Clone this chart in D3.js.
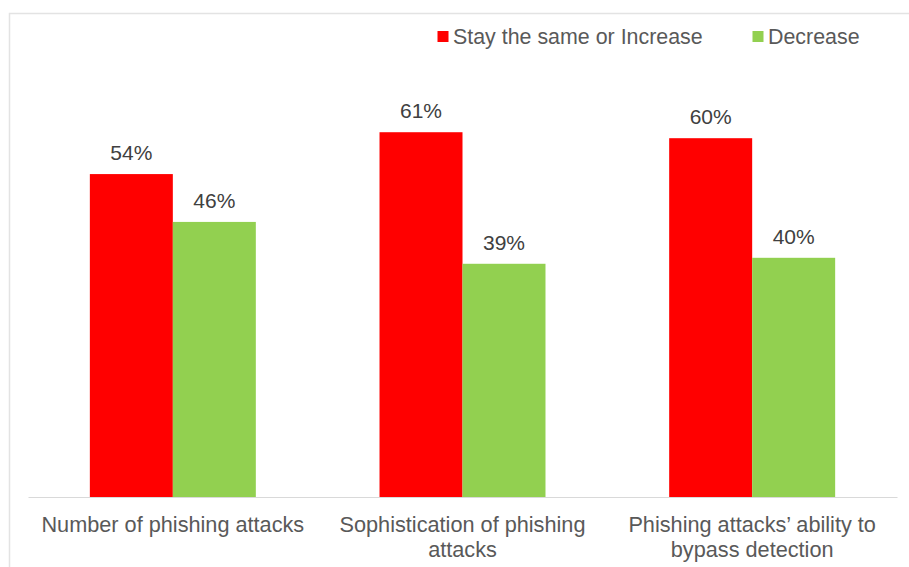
<!DOCTYPE html>
<html>
<head>
<meta charset="utf-8">
<script src="https://cdn.jsdelivr.net/npm/d3@7"></script>
<style>
  html, body { margin: 0; padding: 0; background: #ffffff; }
  svg { display: block; font-family: "Liberation Sans", Arial, sans-serif; }
</style>
</head>
<body>
<svg id="chart" width="909" height="567"></svg>
<script>
const categories = [
  "Number of phishing attacks",
  "Sophistication of phishing attacks",
  "Phishing attacks\u2019 ability to bypass detection"
];
const seriesNames = ["Stay the same or Increase", "Decrease"];
const stayOrIncrease = [54, 61, 60];
const decrease = [46, 39, 40];
const seriesColors = ["#FF0000", "#92D050"];

const svg = d3.select("#chart");
const W = 909, H = 567;

// light frame
svg.append("path")
  .attr("d", `M9.5,${H} V13.5 H${W}`)
  .attr("fill", "none")
  .attr("stroke", "#e3e3e3")
  .attr("stroke-width", 1.5);

const x0 = d3.scaleBand().domain(categories).range([28, 897]).paddingInner(0.427).paddingOuter(0.2135);
const x1 = d3.scaleBand().domain(seriesNames).range([0, x0.bandwidth()]).padding(0);
const y = d3.scaleLinear().domain([0, 100]).range([497, -101]);

const data = categories.map((c, i) => ({ cat: c, vals: [stayOrIncrease[i], decrease[i]] }));

const groups = svg.append("g").selectAll("g").data(data).join("g")
  .attr("transform", d => `translate(${x0(d.cat)},0)`);

groups.selectAll("rect").data(d => d.vals.map((v, j) => ({ v, s: seriesNames[j], j })))
  .join("rect")
  .attr("x", d => x1(d.s))
  .attr("y", d => y(d.v))
  .attr("width", x1.bandwidth())
  .attr("height", d => y(0) - y(d.v))
  .attr("fill", d => seriesColors[d.j]);

groups.selectAll("text.val").data(d => d.vals.map((v, j) => ({ v, s: seriesNames[j], j })))
  .join("text")
  .attr("class", "val")
  .attr("x", d => x1(d.s) + x1.bandwidth() / 2)
  .attr("y", d => y(d.v) - 14)
  .attr("text-anchor", "middle")
  .attr("font-size", 21)
  .attr("fill", "#404040")
  .text(d => d.v + "%");

// axis line
const xAxis = d3.axisBottom(x0).tickSize(0).tickFormat("");
const axisG = svg.append("g").attr("transform", `translate(0,${y(0)})`).call(xAxis);
axisG.select(".domain").attr("stroke", "#d9d9d9").attr("stroke-width", 1.2);

// category labels with wrapping
function wrapWords(text, maxW, fontSize) {
  const tmp = svg.append("text").attr("font-size", fontSize).attr("visibility", "hidden");
  const words = text.split(" ");
  const lines = [];
  let line = [];
  words.forEach(w => {
    line.push(w);
    tmp.text(line.join(" "));
    if (tmp.node().getComputedTextLength() > maxW && line.length > 1) {
      line.pop();
      lines.push(line.join(" "));
      line = [w];
    }
  });
  lines.push(line.join(" "));
  tmp.remove();
  return lines;
}

const catFont = 21.7;
categories.forEach(c => {
  const lines = wrapWords(c, 280, catFont);
  const t = svg.append("text")
    .attr("text-anchor", "middle")
    .attr("font-size", catFont)
    .attr("fill", "#595959");
  lines.forEach((l, k) => {
    t.append("tspan")
      .attr("x", x0(c) + x0.bandwidth() / 2)
      .attr("y", 532 + k * 25)
      .text(l);
  });
});

// legend
const legendX = [437.5, 752.5];
const legend = svg.append("g").selectAll("g").data(seriesNames).join("g")
  .attr("transform", (d, i) => `translate(${legendX[i]},31)`);
legend.append("rect").attr("width", 11).attr("height", 11).attr("fill", (d, i) => seriesColors[i]);
legend.append("text").attr("x", 15.5).attr("y", 13)
  .attr("font-size", 21.4).attr("fill", "#595959").text(d => d);
</script>
</body>
</html>
